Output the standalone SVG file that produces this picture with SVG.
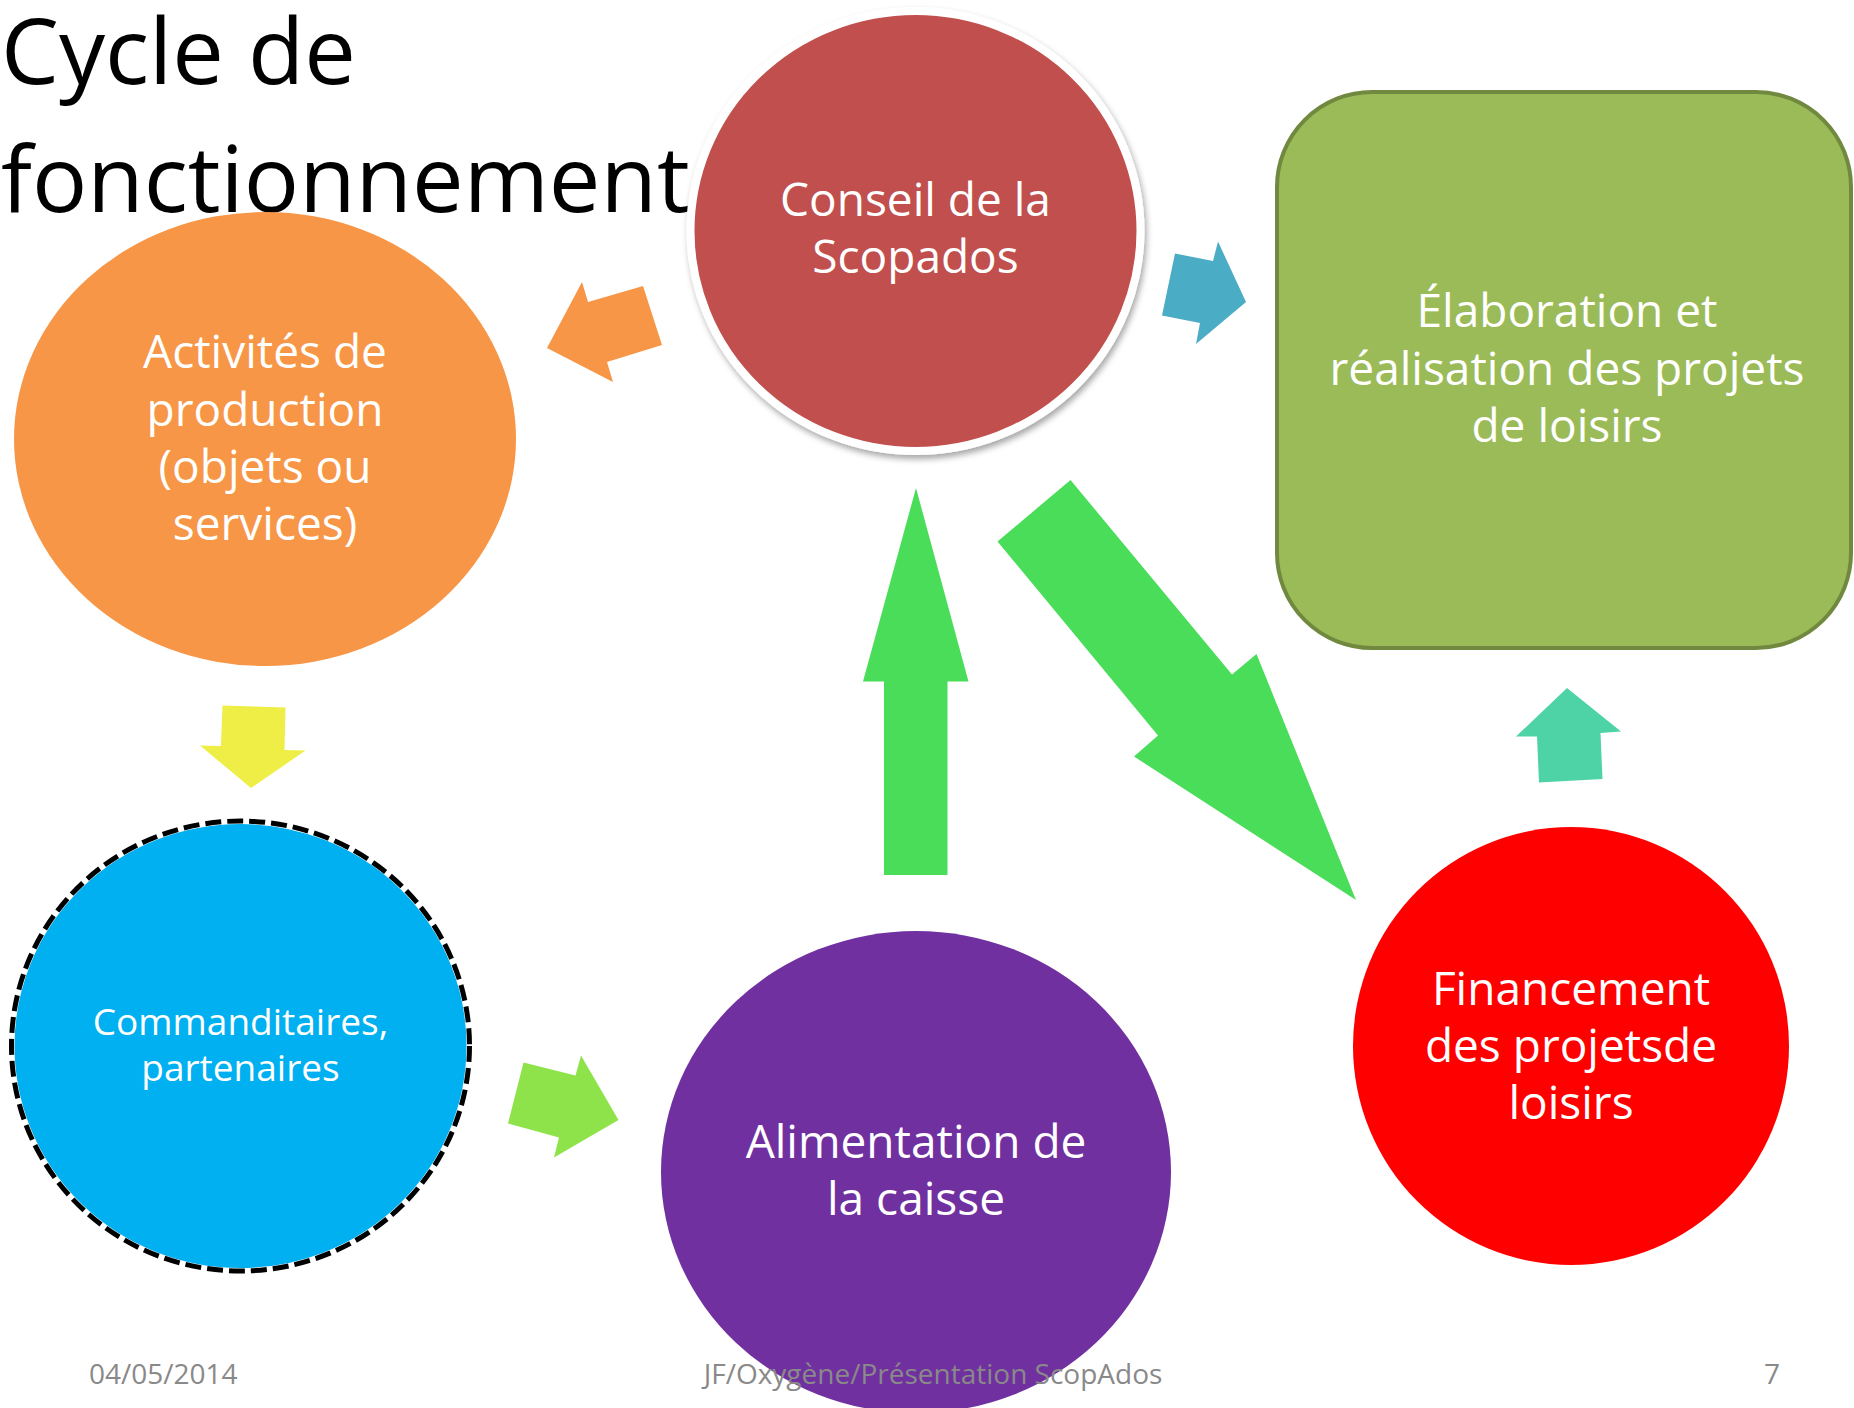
<svg xmlns="http://www.w3.org/2000/svg" width="1854" height="1408" viewBox="0 0 1854 1408">
<defs>
<style>
.t{font-family:"Open Sans","Noto Sans","Liberation Sans",sans-serif;fill:#ffffff;text-anchor:middle;}
.n{font-size:46px;}
.s{font-size:37px;}
.title{font-family:"Open Sans","Noto Sans","Liberation Sans",sans-serif;font-size:92px;fill:#000000;}
.foot{font-family:"Open Sans","Noto Sans","Liberation Sans",sans-serif;font-size:28px;fill:#898989;}
</style>
<filter id="sh" x="-20%" y="-20%" width="140%" height="140%">
<feDropShadow dx="2" dy="4" stdDeviation="3" flood-color="#000000" flood-opacity="0.35"/>
</filter>
</defs>
<rect x="0" y="0" width="1854" height="1408" fill="#ffffff"/>
<g id="title">
<text class="title" x="1" y="84">Cycle de</text>
<text class="title" x="1" y="212">fonctionnement</text>
</g>
<g id="node-activites">
<ellipse cx="265" cy="439" rx="251" ry="227" fill="#F79646"/>
<text class="t n" x="265" y="368">Activités de</text>
<text class="t n" x="265" y="426">production</text>
<text class="t n" x="265" y="483">(objets ou</text>
<text class="t n" x="265" y="540">services)</text>
</g>
<g id="node-conseil">
<ellipse cx="915.5" cy="231" rx="225" ry="220" fill="#C0504D" stroke="#ffffff" stroke-width="8" filter="url(#sh)"/>
<text class="t n" x="915.5" y="216">Conseil de la</text>
<text class="t n" x="915.5" y="273">Scopados</text>
</g>
<g id="node-elaboration">
<rect x="1277" y="92" width="574" height="556" rx="95" ry="95" fill="#9BBB59" stroke="#71893F" stroke-width="4"/>
<text class="t n" x="1567" y="327">Élaboration et</text>
<text class="t n" x="1567" y="385">réalisation des projets</text>
<text class="t n" x="1567" y="442">de loisirs</text>
</g>
<g id="node-commanditaires">
<ellipse cx="240.5" cy="1046" rx="229" ry="225" fill="#00B0F0" stroke="#ffffff" stroke-width="6"/>
<ellipse cx="240.5" cy="1046" rx="229" ry="225" fill="none" stroke="#000000" stroke-width="5" stroke-dasharray="16 6"/>
<text class="t s" x="240.5" y="1035">Commanditaires,</text>
<text class="t s" x="240.5" y="1081">partenaires</text>
</g>
<g id="node-alimentation">
<ellipse cx="916" cy="1172" rx="255" ry="241" fill="#7030A0"/>
<text class="t n" x="916" y="1158">Alimentation de</text>
<text class="t n" x="916" y="1215">la caisse</text>
</g>
<g id="node-financement">
<ellipse cx="1571" cy="1046" rx="218" ry="219" fill="#FF0000"/>
<text class="t n" x="1571" y="1005">Financement</text>
<text class="t n" x="1571" y="1062">des projetsde</text>
<text class="t n" x="1571" y="1119">loisirs</text>
</g>
<g id="connectors">
<polygon fill="#F79646" points="547,348 582,282 588,302 643,286 662,345 607,362 613,382"/>
<polygon fill="#4BACC6" points="1175,253.5 1213,261 1218,241.5 1246,302 1196,344 1200,323 1162,315.5"/>
<polygon fill="#EEEE46" points="222.5,705.5 285.5,707.5 284.5,750 305.5,750.5 251,788 200,745.5 221,746"/>
<polygon fill="#8FE34A" points="523.5,1062.5 575.5,1075.5 581,1055.5 618.5,1120 554,1157.5 559,1137.5 508,1123.5"/>
<polygon fill="#49DD5A" points="916,488 863,681.5 884,681.5 884,875 947.5,875 947.5,681.5 968.5,681.5"/>
<polygon fill="#49DD5A" points="1070.5,480 1232,674.5 1256.5,654 1356,900 1134,756.5 1158,735.5 997.5,541.5"/>
<polygon fill="#4ED3A6" points="1567,688 1621,731.5 1600.5,733 1602.5,779 1539,782.5 1537,736.5 1516,736.5"/>
</g>
<g id="footer">
<text class="foot" x="89" y="1384">04/05/2014</text>
<text class="foot" x="933" y="1384" text-anchor="middle">JF/Oxygène/Présentation ScopAdos</text>
<text class="foot" x="1780" y="1384" text-anchor="end">7</text>
</g>
</svg>
